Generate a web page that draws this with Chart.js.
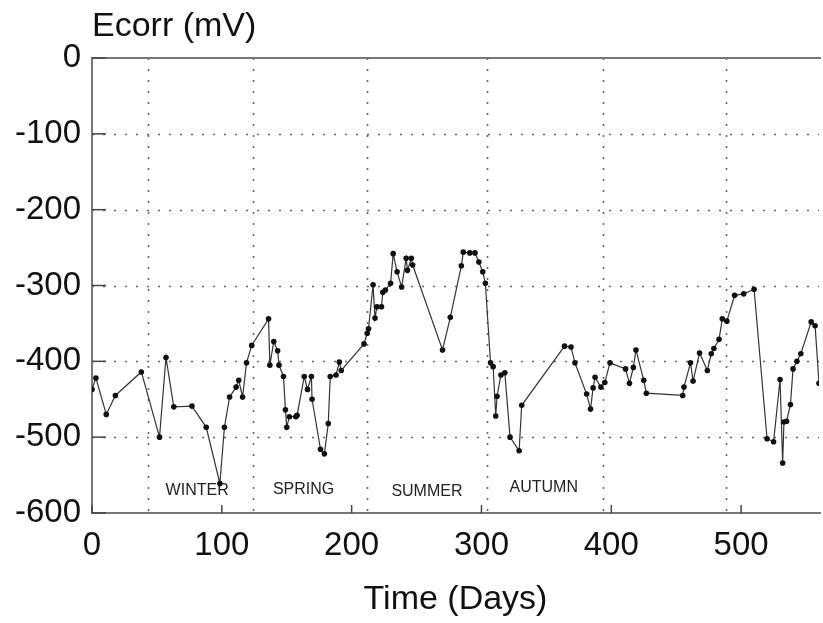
<!DOCTYPE html>
<html>
<head>
<meta charset="utf-8">
<script src="https://cdn.jsdelivr.net/npm/chart.js@4/dist/chart.umd.min.js"></script>
<style>
    html, body { margin: 0; padding: 0; background: #fff; }
    #wrap { width: 823px; height: 623px; }
</style>
</head>
<body>
<div id="wrap"><canvas id="chartEcorr"></canvas></div>
<script>
// time (days) and corrosion potential (mV)
var days = [0, 3, 11, 18, 38, 52, 57, 63, 77, 88, 98.5, 102, 106, 111, 113, 116, 119, 123,
    136, 137, 140, 143, 144, 147.5, 149, 150, 152, 157, 158, 163.5, 166, 169, 169.5, 176, 179,
    182, 183.5, 188, 190.5, 192, 209.5, 212, 213, 216.5, 218, 219.5, 223, 224, 226, 230, 232,
    235, 238.5, 242, 243, 246, 247, 270, 276, 284.5, 286, 291, 295, 298, 301, 303, 307, 309,
    311, 312, 315, 318, 322, 329, 331, 364, 369, 372, 381, 384, 386, 387.5, 392, 395, 399,
    411, 414, 417, 419, 425, 427, 455, 456, 461, 463, 468, 474, 477, 479, 483, 485.5, 489,
    495, 502, 510, 520, 525, 530, 532, 533, 535, 538, 540, 543, 546, 554, 557, 560];
var ecorr = [-437, -422, -470, -445, -414, -500, -395, -460, -459, -487, -561, -487, -447, -434, -425, -447, -402, -379,
    -344, -405, -374, -386, -405, -420, -464, -487, -473, -473, -471, -420, -437, -420, -450, -516, -522,
    -482, -420, -418, -401, -412, -377, -363, -357, -299, -343, -328, -328, -309, -306, -297, -258,
    -282, -302, -264, -280, -264, -273, -385, -342, -274, -256, -257, -257, -269, -282, -297, -402, -407,
    -472, -446, -418, -415, -500, -518, -458, -380, -381, -402, -443, -463, -435, -421, -434, -428, -402,
    -410, -429, -408, -385, -425, -442, -445, -434, -402, -426, -389, -412, -390, -383, -371, -344, -347,
    -313, -311, -305, -502, -506, -424, -534, -480, -479, -457, -410, -400, -390, -348, -353, -429];

// dotted season boundaries and the season names
var seasonBounds = [43, 124, 212, 304, 394, 488];
var seasonNames = ['WINTER', 'SPRING', 'SUMMER', 'AUTUMN'];
var seasonCentres = [81, 163, 258, 348];
var seasonLevels = [-571, -569, -572, -566];

var points = days.map(function (d, i) {
    return { x: d, y: ecorr[i] };
});

var framePlugin = {
    id: 'frame',
    beforeDatasetsDraw: function (chart) {
        var ctx = chart.ctx;
        var a = chart.chartArea;
        var x = chart.scales.x;
        var y = chart.scales.y;
        ctx.save();

        // dotted grid
        ctx.strokeStyle = '#666';
        ctx.lineWidth = 1.6;
        ctx.setLineDash([2, 9]);
        y.ticks.forEach(function (t) {
            if (t.value === 0 || t.value === -600) return;
            var py = Math.round(y.getPixelForValue(t.value)) + 0.5;
            ctx.beginPath();
            ctx.moveTo(a.left, py);
            ctx.lineTo(a.right, py);
            ctx.stroke();
        });
        seasonBounds.forEach(function (d) {
            var px = Math.round(x.getPixelForValue(d)) + 0.5;
            ctx.beginPath();
            ctx.moveTo(px, a.top);
            ctx.lineTo(px, a.bottom);
            ctx.stroke();
        });
        ctx.setLineDash([]);

        // frame (right side is off the page)
        ctx.strokeStyle = '#777';
        ctx.lineWidth = 2;
        ctx.beginPath();
        ctx.moveTo(a.right + 2, a.top);
        ctx.lineTo(a.left, a.top);
        ctx.lineTo(a.left, a.bottom);
        ctx.lineTo(a.right + 2, a.bottom);
        ctx.stroke();

        // inward tick marks
        ctx.strokeStyle = '#444';
        ctx.lineWidth = 1.5;
        y.ticks.forEach(function (t) {
            var py = y.getPixelForValue(t.value);
            ctx.beginPath();
            ctx.moveTo(a.left, py);
            ctx.lineTo(a.left + 14, py);
            ctx.stroke();
        });
        x.ticks.forEach(function (t) {
            var px = x.getPixelForValue(t.value);
            ctx.beginPath();
            ctx.moveTo(px, a.bottom);
            ctx.lineTo(px, a.bottom - 8);
            ctx.stroke();
        });

        // season names
        ctx.fillStyle = '#222';
        ctx.font = '16px "Liberation Sans", Arial, sans-serif';
        ctx.textAlign = 'center';
        ctx.textBaseline = 'middle';
        seasonNames.forEach(function (name, i) {
            ctx.fillText(name, x.getPixelForValue(seasonCentres[i]), y.getPixelForValue(seasonLevels[i]));
        });

        // y axis title, written across the top
        ctx.fillStyle = '#111';
        ctx.font = '34px "Liberation Sans", Arial, sans-serif';
        ctx.textAlign = 'left';
        ctx.textBaseline = 'alphabetic';
        ctx.fillText('Ecorr (mV)', a.left, 36);
        ctx.restore();
    }
};

var ctx = document.getElementById('chartEcorr').getContext('2d');

var chartData = {
    datasets: [{
        label: 'Ecorr',
        data: points,
        borderColor: '#333',
        borderWidth: 1.2,
        backgroundColor: '#111',
        pointBackgroundColor: '#111',
        pointBorderColor: '#111',
        pointRadius: 2.8,
        pointBorderWidth: 0,
        tension: 0
    }]
};

var options = {
    responsive: true,
    maintainAspectRatio: false,
    animation: false,
    layout: { padding: { top: 58, right: 0, left: 0, bottom: 0 } },
    plugins: {
        legend: { display: false },
        tooltip: { enabled: false }
    },
    scales: {
        x: {
            type: 'linear',
            min: 0,
            max: 560,
            grid: { display: false },
            border: { display: false },
            ticks: {
                stepSize: 100,
                includeBounds: false,
                padding: 5,
                color: '#111',
                font: { family: '"Liberation Sans", Arial, sans-serif', size: 33 }
            },
            title: {
                display: true,
                text: 'Time (Days)',
                color: '#111',
                padding: { top: 10, bottom: 3 },
                font: { family: '"Liberation Sans", Arial, sans-serif', size: 34 }
            },
            afterFit: function (scale) { scale.height = 110; }
        },
        y: {
            min: -600,
            max: 0,
            grid: { display: false },
            border: { display: false },
            ticks: {
                stepSize: 100,
                padding: 3,
                color: '#111',
                font: { family: '"Liberation Sans", Arial, sans-serif', size: 33 }
            },
            afterFit: function (scale) { scale.width = 92; }
        }
    }
};

var myChart = new Chart(ctx, {
    type: 'line',
    data: chartData,
    options: options,
    plugins: [framePlugin]
});
</script>
</body>
</html>
